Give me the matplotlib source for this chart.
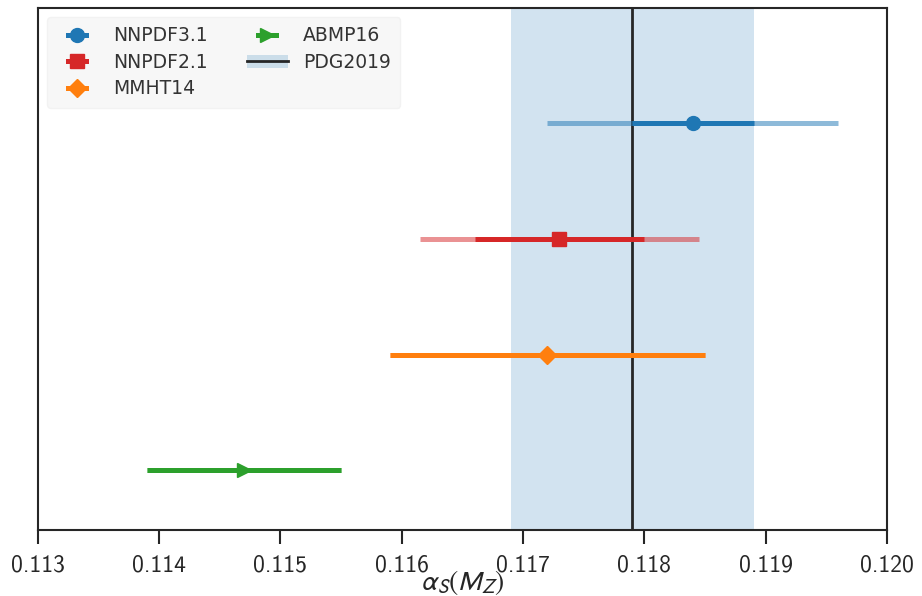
import matplotlib
matplotlib.use("Agg")
import matplotlib.pyplot as plt
from matplotlib.lines import Line2D
from matplotlib.patches import Patch
from matplotlib.legend_handler import HandlerLine2D
from matplotlib.ticker import FixedLocator, FormatStrFormatter

plt.rcParams["mathtext.fontset"] = "stixsans"

# alpha_s(M_Z) determinations
fits = ["NNPDF3.1", "NNPDF2.1", "MMHT14", "ABMP16"]
central = [0.1184, 0.1173, 0.1172, 0.1147]
err_total = [0.0012, 0.00115, 0.0013, 0.0008]
err_inner = [0.0005, 0.0007, 0.0013, 0.0008]
colors = ["tab:blue", "tab:red", "tab:orange", "tab:green"]
markers = ["o", "s", "D", ">"]

pdg_label = "PDG2019"
pdg_value = 0.1179
pdg_err = 0.0010

xticks = [0.113, 0.114, 0.115, 0.116, 0.117, 0.118, 0.119, 0.120]


class ShortStubHandler(HandlerLine2D):
    """Legend handle: marker with a short line stub, centred in the handle box."""

    def __init__(self, stub=13, **kw):
        super().__init__(**kw)
        self.stub = stub

    def get_xdata(self, legend, xdescent, ydescent, width, height, fontsize):
        cx = -xdescent + width / 2
        half = self.stub / 2
        return [cx - half, cx + half], [cx]


fig, ax = plt.subplots(figsize=(9.22, 5.96), dpi=100)
fig.subplots_adjust(left=0.041, right=0.962, top=0.987, bottom=0.11)

ax.axvspan(pdg_value - pdg_err, pdg_value + pdg_err, color="tab:blue", alpha=0.2, lw=0, zorder=0)
ax.axvline(pdg_value, color="#262626", lw=2, zorder=1)

n = len(fits)
handles = []
for i, (c, e_out, e_in, col, m) in enumerate(zip(central, err_total, err_inner, colors, markers)):
    y = n - 1 - i
    ms = 9 if m == "D" else 10
    ax.plot([c - e_out, c + e_out], [y, y], color=col, lw=3.6, alpha=0.5, solid_capstyle="butt", zorder=2)
    ax.plot([c - e_in, c + e_in], [y, y], color=col, lw=3.6, solid_capstyle="butt", zorder=3)
    ax.plot([c], [y], marker=m, color=col, ms=ms, ls="none", zorder=4)
    handles.append(Line2D([], [], color=col, lw=3.6, marker=m, ms=ms))

handles.append((Patch(facecolor="tab:blue", alpha=0.2, lw=0), Line2D([], [], color="#262626", lw=2)))
labels = fits + [pdg_label]

ax.set_xlim(0.113, 0.120)
ax.set_ylim(-0.52, 4.0)
ax.set_yticks([])
ax.xaxis.set_major_locator(FixedLocator(xticks))
ax.xaxis.set_major_formatter(FormatStrFormatter("%.3f"))
ax.tick_params(axis="x", direction="out", length=10, width=1.5, labelsize=17, pad=7, color="#262626",
               labelcolor="#262626")
for t in ax.get_xticklabels():
    t.set_fontfamily("cmss10")
for s in ax.spines.values():
    s.set_linewidth(1.5)
    s.set_color("#262626")
ax.set_xlabel(r"$\alpha_S(M_Z)$", fontsize=20, labelpad=-6, color="#262626")

hmap = {h: ShortStubHandler(stub=13) for h in handles[:-1]}
leg = ax.legend(handles, labels, loc="upper left", ncol=2, fontsize=13.5, handlelength=2.2,
                columnspacing=2.1, handletextpad=0.8, frameon=True, fancybox=True,
                borderaxespad=0.5, borderpad=0.5, labelspacing=0.4, handler_map=hmap)
leg.get_frame().set_facecolor("#f7f7f7")
leg.get_frame().set_edgecolor("#f2f2f2")
leg.get_frame().set_alpha(1)
for t in leg.get_texts():
    t.set_color("#333333")

fig.savefig("out.png", dpi=100)
